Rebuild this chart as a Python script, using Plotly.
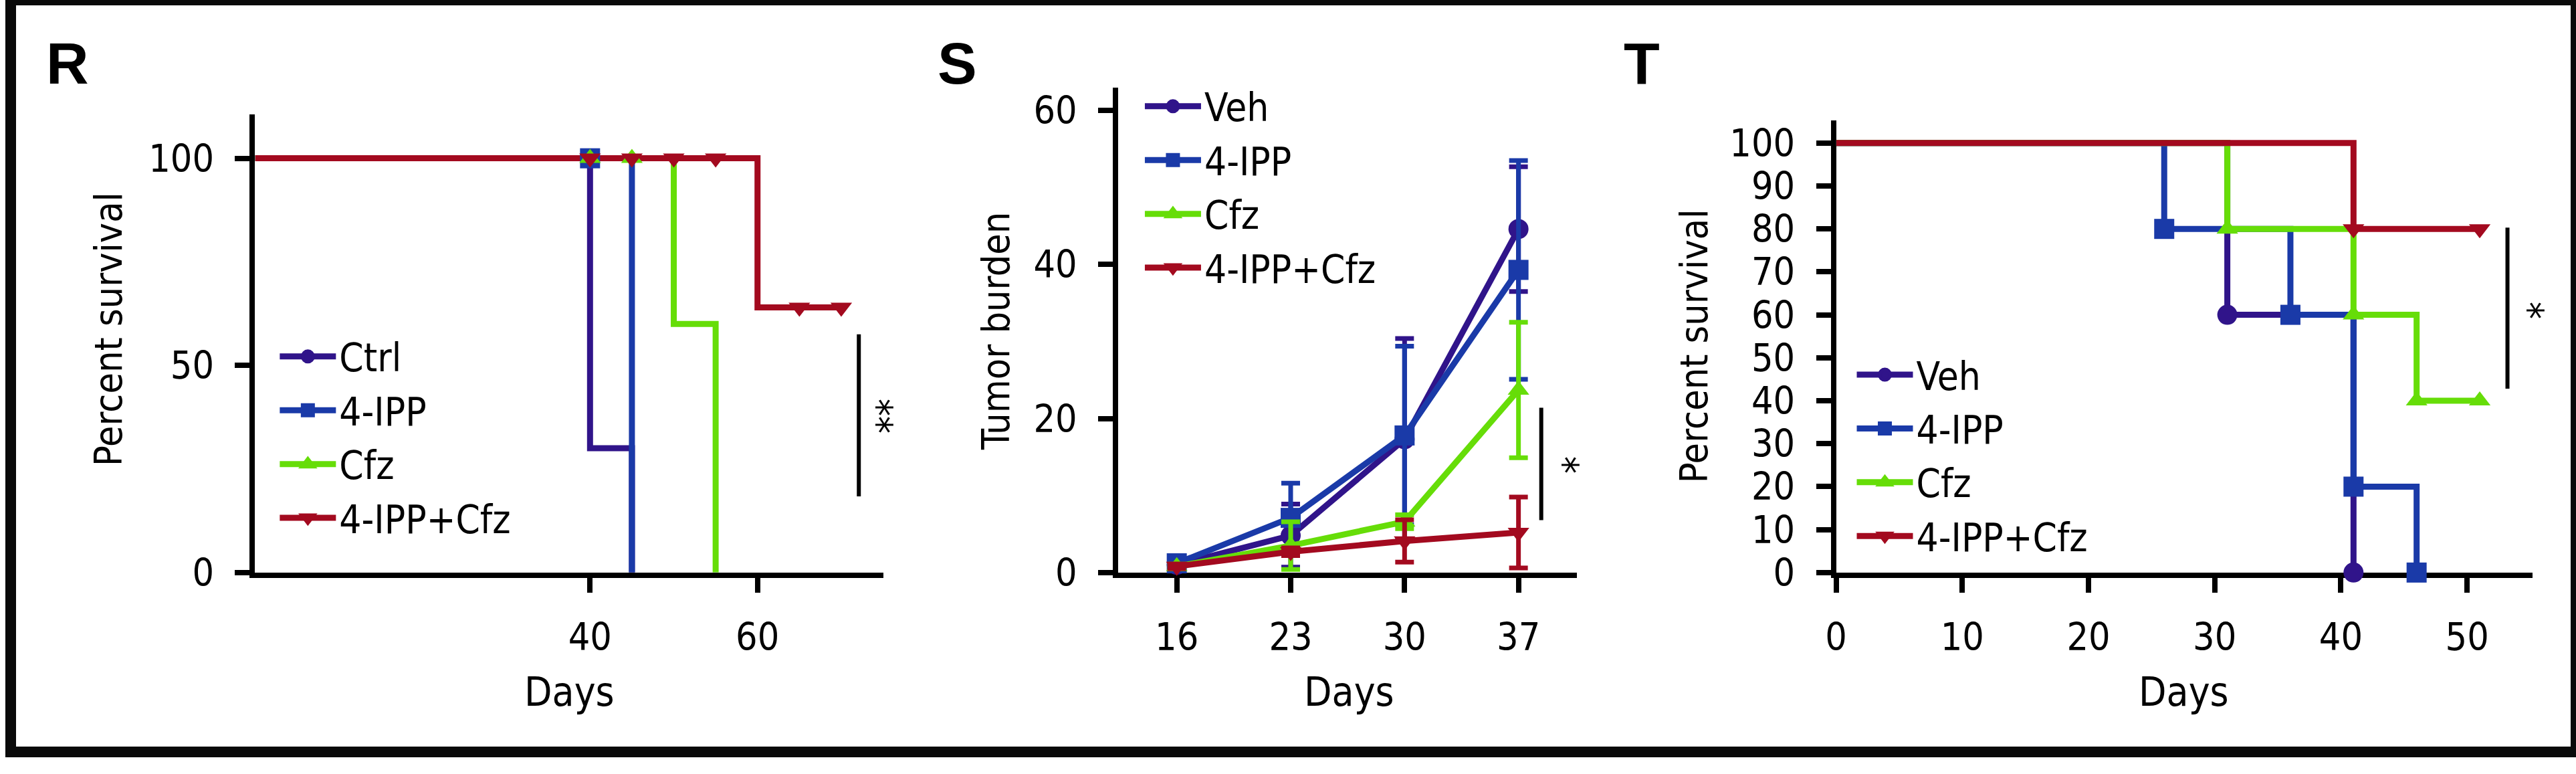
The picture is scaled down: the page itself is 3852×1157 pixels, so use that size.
import plotly.graph_objects as go

# ---------------- data ----------------
# Panel R (Kaplan-Meier, percent survival)
r_ctrl_days = [0, 40, 45]
r_ctrl_surv = [100, 30, 0]
r_ipp_days = [0, 45]
r_ipp_surv = [100, 0]
r_cfz_days = [0, 50, 55]
r_cfz_surv = [100, 60, 0]
r_combo_days = [0, 60, 70]
r_combo_surv = [100, 64, 64]
# censor / event symbols shown in R
r_ipp_mark_days = [40]
r_ipp_mark_surv = [100]
r_cfz_mark_days = [40, 45]
r_cfz_mark_surv = [100, 100]
r_combo_mark_days = [40, 45, 50, 55, 65, 70]
r_combo_mark_surv = [100, 100, 100, 100, 64, 64]

# Panel S (tumor burden, mean +/- error)
s_days = [16, 23, 30, 37]
s_veh = [1.0, 4.8, 17.3, 44.6]
s_veh_err = [0.3, 4.1, 13.1, 8.1]
s_ipp = [1.2, 7.1, 17.8, 39.3]
s_ipp_err = [0.5, 4.5, 11.6, 14.2]
s_cfz = [0.8, 3.5, 6.6, 23.7]
s_cfz_err = [0.3, 3.1, 0.9, 8.8]
s_combo = [0.8, 2.7, 4.1, 5.2]
s_combo_err = [0.3, 0.5, 2.75, 4.6]

# Panel T (Kaplan-Meier, percent survival)
t_veh_days = [0, 31, 41]
t_veh_surv = [100, 60, 0]
t_ipp_days = [0, 26, 36, 41, 46]
t_ipp_surv = [100, 80, 60, 20, 0]
t_cfz_days = [0, 31, 41, 46, 51]
t_cfz_surv = [100, 80, 60, 40, 40]
t_combo_days = [0, 41, 51]
t_combo_surv = [100, 80, 80]

r_names = ["Ctrl", "4-IPP", "Cfz", "4-IPP+Cfz"]
st_names = ["Veh", "4-IPP", "Cfz", "4-IPP+Cfz"]
r_xticks = [40, 60]
r_yticks = [0, 50, 100]
s_yticks = [0, 20, 40, 60]
t_xticks = [0, 10, 20, 30, 40, 50]
t_yticks = list(range(0, 101, 10))

# significance brackets (x, y0, y1, label, label x, label y)
r_sig = (72.1, 18.4, 57.5, "**", 74.3, 37.8)
s_sig = (38.4, 6.8, 21.4, "*", 39.8, 14.0)
t_sig = (53.2, 42.8, 80.3, "*", 54.9, 61.1)

# ---------------- style ----------------
W, H = 3852, 1157
PURPLE = "#30148a"
BLUE = "#1a3aa8"
GREEN = "#66dd08"
RED = "#a30a1f"
COLORS = [PURPLE, BLUE, GREEN, RED]
SYMBOLS = ["circle", "square", "triangle-up", "triangle-down"]
MSIZE = [30, 30, 28, 28]
FONT = "DejaVu Sans Condensed, Liberation Sans Narrow, Arial Narrow, sans-serif"
LW = 8          # axis lines
DLW = 9         # data lines
TICK_SIZE = 57
TITLE_SIZE = 57
DAYS_SIZE = 60
LEG_SIZE = 58


def px_x(p):
    return p / W


def px_y(p):
    return 1 - p / H


fig = go.Figure()


def km_line(days, surv, color, xa, ya):
    fig.add_trace(go.Scatter(x=days, y=surv, mode="lines", line=dict(color=color, width=DLW, shape="hv"),
                             xaxis=xa, yaxis=ya, showlegend=False, hoverinfo="skip", cliponaxis=False))


def marks(days, surv, i, xa, ya):
    fig.add_trace(go.Scatter(x=days, y=surv, mode="markers",
                             marker=dict(color=COLORS[i], symbol=SYMBOLS[i], size=MSIZE[i], line=dict(width=0)),
                             xaxis=xa, yaxis=ya, showlegend=False, hoverinfo="skip", cliponaxis=False))


def legend_entries(names, xa, ya, leg):
    # legend-only entries; outline in the same colour enlarges the (size-capped) legend symbol
    for i, n in enumerate(names):
        fig.add_trace(go.Scatter(x=[None], y=[None], mode="lines+markers", name=n,
                                 line=dict(color=COLORS[i], width=DLW),
                                 marker=dict(color=COLORS[i], symbol=SYMBOLS[i], size=MSIZE[i],
                                             line=dict(width=5, color=COLORS[i])),
                                 xaxis=xa, yaxis=ya, legend=leg, legendgroup=leg + n))


# ---- R ----
km_line(r_ctrl_days, r_ctrl_surv, PURPLE, "x", "y")
km_line(r_ipp_days, r_ipp_surv, BLUE, "x", "y")
km_line(r_cfz_days, r_cfz_surv, GREEN, "x", "y")
km_line(r_combo_days, r_combo_surv, RED, "x", "y")
marks(r_ipp_mark_days, r_ipp_mark_surv, 1, "x", "y")
marks(r_cfz_mark_days, r_cfz_mark_surv, 2, "x", "y")
marks(r_combo_mark_days, r_combo_mark_surv, 3, "x", "y")
legend_entries(r_names, "x", "y", "legend")

# ---- S ----
for i, (vals, errs) in enumerate([(s_veh, s_veh_err), (s_ipp, s_ipp_err), (s_cfz, s_cfz_err), (s_combo, s_combo_err)]):
    fig.add_trace(go.Scatter(x=s_days, y=vals, mode="lines+markers",
                             line=dict(color=COLORS[i], width=DLW),
                             marker=dict(color=COLORS[i], symbol=SYMBOLS[i], size=MSIZE[i], line=dict(width=0)),
                             error_y=dict(type="data", array=errs, visible=True, color=COLORS[i], thickness=7, width=14),
                             xaxis="x2", yaxis="y2", showlegend=False, hoverinfo="skip", cliponaxis=False))
legend_entries(st_names, "x2", "y2", "legend2")

# ---- T ----
t_series = [(t_veh_days, t_veh_surv), (t_ipp_days, t_ipp_surv),
            (t_cfz_days, t_cfz_surv), (t_combo_days, t_combo_surv)]
for i, (d, s) in enumerate(t_series):
    km_line(d, s, COLORS[i], "x3", "y3")
for i, (d, s) in enumerate(t_series):
    marks(d[1:], s[1:], i, "x3", "y3")
legend_entries(st_names, "x3", "y3", "legend3")

axis_common = dict(showline=True, linecolor="black", linewidth=LW, ticks="outside", ticklen=22,
                   tickwidth=LW, tickcolor="black", showgrid=False, zeroline=False,
                   tickfont=dict(family=FONT, size=TICK_SIZE, color="black"), layer="below traces",
                   fixedrange=True)

layout_axes = dict(
    xaxis=dict(domain=[px_x(367), px_x(1310)], range=[0, 75], tickvals=r_xticks, anchor="y",
               ticklabelstandoff=18, **axis_common),
    yaxis=dict(domain=[px_y(881), px_y(176)], range=[0, 110.6], tickvals=r_yticks, anchor="x",
               ticklabelstandoff=20, **axis_common),
    xaxis2=dict(domain=[px_x(1663), px_x(2352)], range=[12.4, 40.6], tickvals=s_days, anchor="y2",
                ticklabelstandoff=18, **axis_common),
    yaxis2=dict(domain=[px_y(881), px_y(135)], range=[0, 62.95], tickvals=s_yticks, anchor="x2",
                ticklabelstandoff=20, **axis_common),
    xaxis3=dict(domain=[px_x(2741), px_x(3787)], range=[0, 55.2], tickvals=t_xticks, anchor="y3",
                ticklabelstandoff=18, **axis_common),
    yaxis3=dict(domain=[px_y(881), px_y(185)], range=[0, 105.3], tickvals=t_yticks, anchor="x3",
                ticklabelstandoff=20, **axis_common),
)

leg_common = dict(font=dict(family=FONT, size=LEG_SIZE, color="black"), bgcolor="rgba(0,0,0,0)",
                  itemwidth=84, xanchor="left", yanchor="top", traceorder="grouped", tracegroupgap=2,
                  itemclick=False, itemdoubleclick=False)

annotations = []
# axis titles
for (x, y, t, ang, sz) in [(146, 506, "Percent survival", -90, TITLE_SIZE), (839, 1064, "Days", 0, DAYS_SIZE),
                           (1480, 509, "Tumor burden", -90, TITLE_SIZE), (2010, 1064, "Days", 0, DAYS_SIZE),
                           (2527, 533, "Percent survival", -90, TITLE_SIZE), (3263, 1064, "Days", 0, DAYS_SIZE)]:
    annotations.append(dict(x=px_x(x), y=px_y(y), xref="paper", yref="paper", text=t, textangle=ang,
                            showarrow=False, xanchor="center", yanchor="middle",
                            font=dict(family=FONT, size=sz, color="black")))
# panel letters
for (x, y, t) in [(85, 97, "R"), (1421, 97, "S"), (2449, 97, "T")]:
    annotations.append(dict(x=px_x(x), y=px_y(y), xref="paper", yref="paper", text="<b>%s</b>" % t,
                            showarrow=False, xanchor="center", yanchor="middle",
                            font=dict(family="Liberation Sans, Arial, sans-serif", size=88, color="black")))

shapes = []
for sig, xr, yr in [(r_sig, "x", "y"), (s_sig, "x2", "y2"), (t_sig, "x3", "y3")]:
    shapes.append(dict(type="line", xref=xr, yref=yr, x0=sig[0], x1=sig[0], y0=sig[1], y1=sig[2],
                       line=dict(color="black", width=6)))
    annotations.append(dict(x=sig[4], y=sig[5], xref=xr, yref=yr, text=sig[3], textangle=90, showarrow=False,
                            xanchor="center", yanchor="middle",
                            font=dict(family=FONT, size=58, color="black")))
# outer frame
shapes.append(dict(type="rect", xref="paper", yref="paper", x0=0, y0=0, x1=1, y1=1,
                   line=dict(color="#0a0a0a", width=16), fillcolor="rgba(0,0,0,0)"))

fig.update_layout(
    width=W, height=H, margin=dict(l=0, r=0, t=0, b=0),
    paper_bgcolor="white", plot_bgcolor="white",
    font=dict(family=FONT, color="black"),
    legend=dict(x=px_x(399), y=px_y(503), **leg_common),
    legend2=dict(x=px_x(1698), y=px_y(118), **leg_common),
    legend3=dict(x=px_x(2767), y=px_y(531), **leg_common),
    annotations=annotations, shapes=shapes,
    **layout_axes,
)

fig.write_html("out.html", config={"displayModeBar": False, "staticPlot": True},
               post_script="document.body.style.margin='0';document.body.style.overflow='hidden';")
